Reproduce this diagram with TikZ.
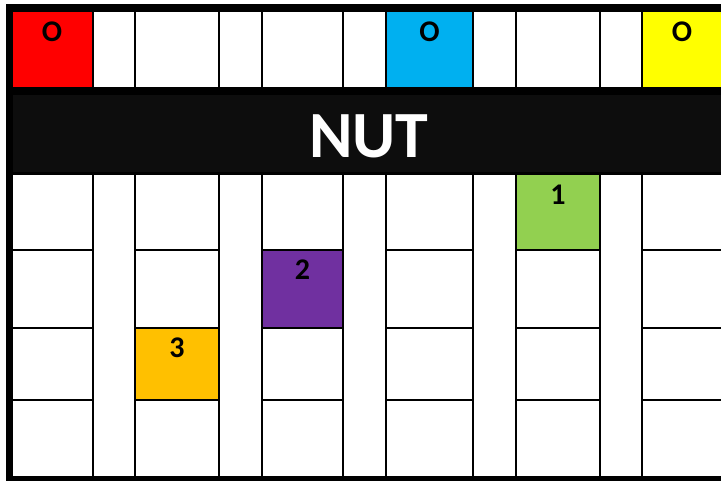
\documentclass[tikz,border=0pt]{standalone}
\usepackage{fontspec}
\setmainfont{Carlito}
\definecolor{cred}{HTML}{FF0000}
\definecolor{cblue}{HTML}{00B0F0}
\definecolor{cyellow}{HTML}{FFFF00}
\definecolor{cgreen}{HTML}{92D050}
\definecolor{cpurple}{HTML}{7030A0}
\definecolor{corange}{HTML}{FFC000}
\definecolor{cband}{HTML}{0D0D0D}
\begin{document}
\begin{tikzpicture}[x=1pt,y=-1pt,
  gridline/.style={draw=black,line width=2pt},
  lbl/.style={font=\bfseries\fontsize{30}{30}\selectfont,anchor=base,inner sep=0pt},
  title/.style={font=\bfseries\fontsize{66}{66}\selectfont,text=white,anchor=base,inner sep=0pt}]
\useasboundingbox (0,0) rectangle (721,480);
% outer frame
\fill[black] (6,4) rectangle (740,490);
\fill[white] (13,11.5) rectangle (740,476);
% coloured cells
\fill[cred] (13,11.5) rectangle (92.5,87);
\fill[cblue] (386,11.5) rectangle (473,87);
\fill[cyellow] (642,11.5) rectangle (740,87);
\fill[cgreen] (516,174) rectangle (600,250);
\fill[cpurple] (262,250) rectangle (343,327.5);
\fill[corange] (135,327.5) rectangle (219,399.5);
% top row verticals
\foreach \x in {92.5,135,219,262,343,386,473,516,600,642}
  \draw[gridline] (\x,11) -- (\x,88);
% band
\fill[black] (13,87) rectangle (740,175);
\fill[cband] (13,95) rectangle (740,172);
\node[title] (nut) at (369,157) {NUT};
% lower grid
\foreach \x in {92.5,135,219,262,343,386,473,516,600,642}
  \draw[gridline] (\x,174) -- (\x,477);
\foreach \a/\b in {13/92.5,135/219,262/343,386/473,516/600,642/740}
  \foreach \y in {250,327.5,399.5}
    \draw[gridline] (\a,\y) -- (\b,\y);
% labels
\node[lbl] (o1) at (52,41) {O};
\node[lbl] (o2) at (429.5,41) {O};
\node[lbl] (o3) at (682,41) {O};
\node[lbl] (n1) at (558,204) {1};
\node[lbl] (n2) at (302.5,279) {2};
\node[lbl] (n3) at (177,357) {3};
\end{tikzpicture}
\end{document}
